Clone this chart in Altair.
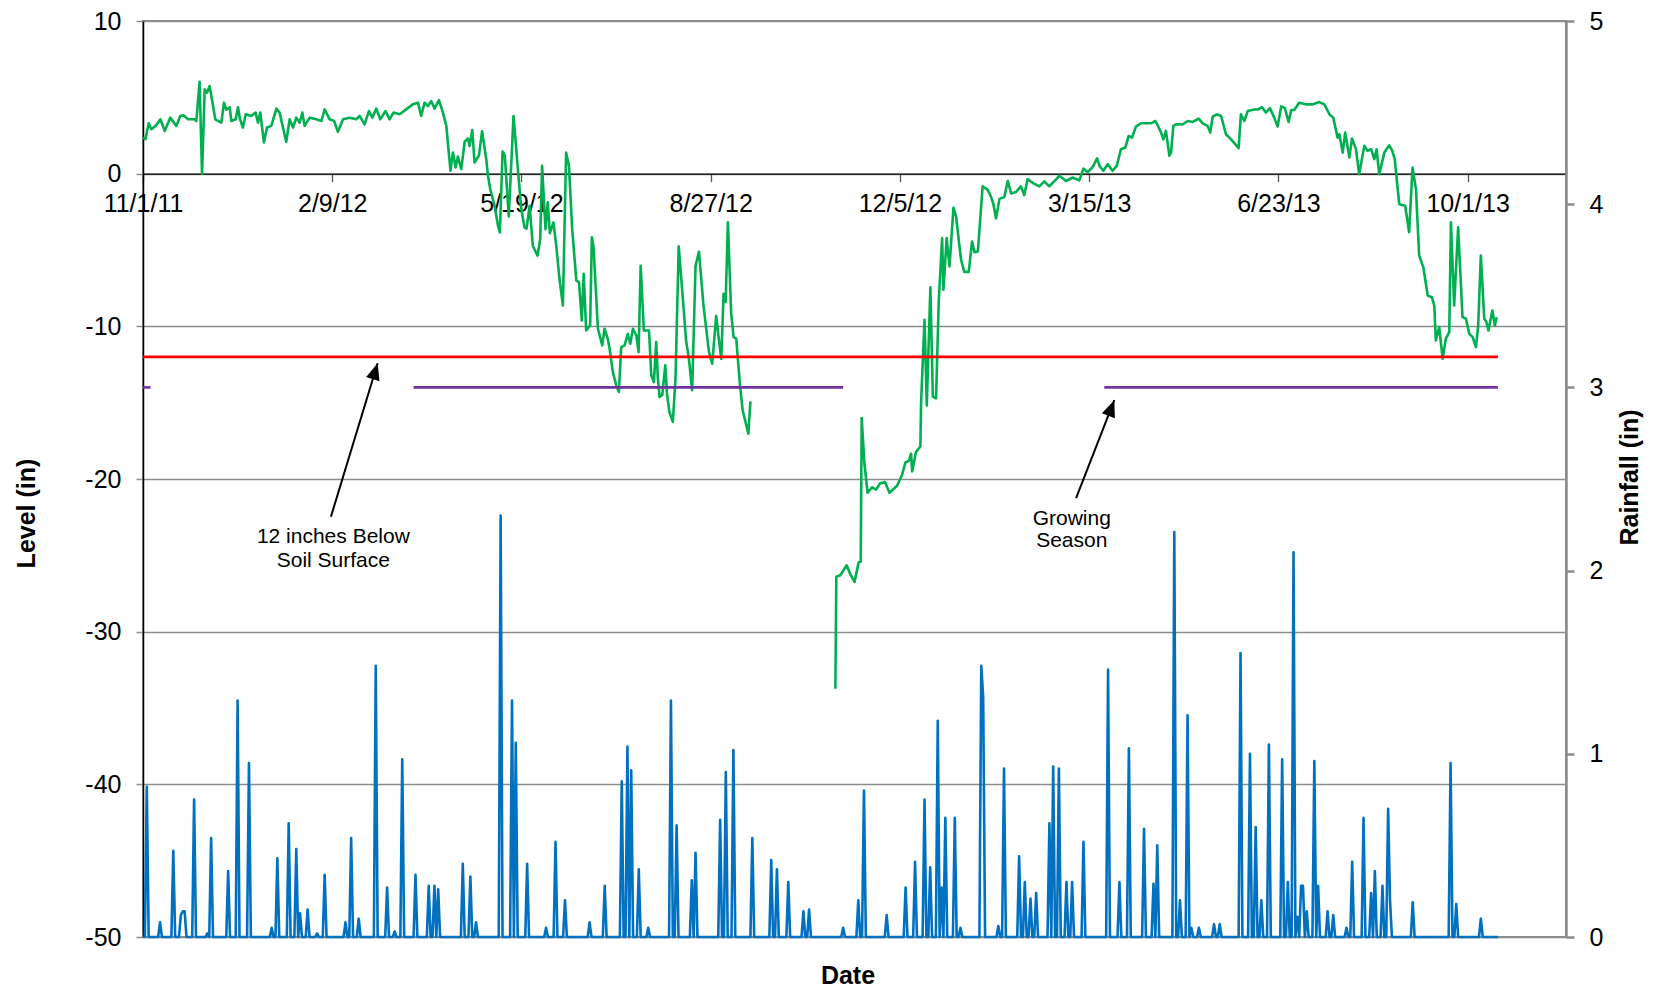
import altair as alt
import pandas as pd

FONT = "Liberation Sans"
W, H = 1423, 916
PAD_TOP, PAD_LEFT = 13, 135

# ---------------- data ----------------
# x = days since 11/1/11
tick_days = [0, 100, 200, 300, 400, 500, 600, 700]
tick_labels = ["11/1/11", "2/9/12", "5/19/12", "8/27/12", "12/5/12", "3/15/13", "6/23/13", "10/1/13"]

level_day_1 = [0, 1.3, 3.0, 4.4, 6.7, 9.2, 11.5, 14.4, 17.6, 19.7, 21.5, 23.8, 27.3, 28.2, 29.9, 31.2, 32.6, 33.8,
               35.2, 36.6, 38.2, 41.4, 42.8, 44, 45.8, 46.7, 49, 50.2, 51.2, 52.8, 54.3, 57.2, 59.5, 60.8, 62, 63.9,
               65.5, 67.8, 70.5, 72.2, 75.7, 77.5, 79.3, 81, 82.8, 84.2, 85.4, 88.1, 91.6, 94.3, 96, 98.6, 101, 103,
               105.7, 109.2, 112.7, 114.5, 117.1, 119.4, 121.2, 123.3, 125.4, 128.2, 130.3, 132.4, 135.6, 139.1,
               142.6, 145.3, 147, 148.8, 150.6, 152.3, 154.1, 156.4, 158.5, 160.3, 161.1, 162.5, 163.8, 165.2,
               166.4, 168.2, 170, 171.7, 172.6, 174, 175.2, 177.5, 179.2, 181.4, 182.3, 183.5, 185.8, 187.6, 188.6,
               190, 191.2, 193.3, 195.8, 198.1, 199.9, 201.6, 202.7, 204.3, 206, 208.5, 209.9, 210.9, 212.7, 213.9,
               215, 216.9, 218.4, 220.1, 221.9, 223.6, 225.1, 226.8, 229, 230.4, 231.9, 232.9, 234.2, 236.3, 237.2,
               238.1, 240.4, 242.7, 243.9, 245.6, 246.6, 248.3, 250.1, 251.5, 252.7, 254.5, 256.2, 257.5, 258.9,
               260.7, 261.9, 263, 264.7, 267.4, 268.6, 270, 271.2, 272.1, 273, 274.4, 276, 276.9, 278.2, 280, 281.4,
               283.1, 285.3, 287, 288.5, 290.2, 292, 293.8, 296.2, 299.1, 300.8, 302.9, 304.7, 305.6, 306.8, 307.9,
               309.1, 310.8, 312.1, 313.5, 315.5, 316.9, 319.9, 321]
level_val_1 = [2.37, 2.26, 3.30, 2.91, 3.13, 3.56, 2.80, 3.67, 3.13, 3.78, 3.82, 3.56, 3.56, 3.45, 6.02, 0.0, 5.52, 5.3,
               5.74, 4.74, 3.56, 3.34, 4.65, 4.2, 4.35, 3.45, 3.56, 4.35, 3.6, 3.02, 3.89, 3.78, 4.0, 3.34, 4.0, 2.04,
               3.02, 3.13, 4.26, 4.0, 2.08, 3.56, 3.02, 3.67, 3.34, 4.0, 3.13, 3.67, 3.56, 3.45, 4.21, 3.56, 3.45, 2.74,
               3.56, 3.67, 3.56, 3.78, 3.23, 4.1, 3.67, 4.26, 3.56, 4.1, 3.56, 4.0, 3.89, 4.21,
               4.54, 4.65, 3.78, 4.65, 4.43, 4.76, 4.26, 4.82, 4.0, 3.13, 2.04, 0.2, 1.39, 0.4,
               1.12, 0.3, 2.1, 2.3, 1.82, 2.86, 0.73, 1.17, 2.78, 0.95, -0.14, -1.01, -2.1, -3.41, -3.85,
               1.45, 1.2, -2.8, 3.78, 0.3, -2.32, -3.52, -3.6, -2.1, -4.72, -5.37, -4.28, 0.51, -3.63, -1.88,
               -3.9, -3.19, -4.72, -6.9, -8.64, 1.38, 0.51, -3.63, -7.0, -7.1, -9.62, -6.56, -10.27, -9.94, -4.17,
               -4.8, -10.16, -11.25, -10.16, -10.81, -11.47, -13.0, -13.87, -14.3, -11.36, -11.25, -10.49, -11.14, -10.16,
               -10.6, -11.69, -6.03, -10.27, -10.27, -13.21, -13.65, -11.03, -13.43, -14.63, -14.5, -12.56, -14.41, -15.61, -16.26, -13.43,
               -4.76, -8.2, -10.93, -12.13, -14.19, -6.03, -5.11, -8.64, -11.69, -12.45, -9.33, -11.25, -12.13, -7.87, -8.4,
               -3.19, -9.08, -10.71, -10.8, -13.87, -15.5, -17.03, -14.91]

level_day_2 = [365.9, 366.4, 368.5, 371.9, 373.6, 376, 378.2, 379.3, 379.8, 381.2, 382.9, 385.3, 387.4, 389.4, 392.1,
               394.5, 398.5, 401.1, 402.9, 404.8, 405.9, 406.5, 408.5, 410.8, 411.2, 413, 414.2, 416.1, 417.4, 419.1,
               420.5, 422.3, 423, 424.7, 426.2, 428.3, 429.7, 431.4, 432.3, 434, 436.4, 438.1, 439.4, 441.2, 443.7,
               446.4, 448.2, 449.4, 450.8, 452.6, 455.2, 457, 458.8, 461.4, 463.9, 465.7, 467.5, 470.1, 473.7, 476.3,
               478.9, 481.6, 484.3, 487.8, 491.3, 494.8, 497, 499.3, 501.9, 504.2, 505.5, 507.5, 509.8, 512.4, 514.6,
               516.8, 519.1, 520.9, 522.7, 524.7, 527.4, 530, 532.7, 535, 536.2, 538, 539.2, 540.6, 542.4, 543.3,
               544.5, 545.9, 549.4, 552.1, 554.7, 557.9, 560, 562.6, 564, 565.3, 567.4, 569.7, 572.3, 575, 577.2, 579,
               580.2, 582, 583.8, 587.3, 589.2, 591.3, 593.4, 595.5, 597.8, 599.6, 601.5, 603.4, 605.4, 606.8, 608.4,
               611, 614.6, 618.1, 621.6, 624.3, 627, 629, 631.3, 632.2, 634, 635.3, 637.5, 638.9, 641, 642.7, 645.4,
               647.2, 649, 650.7, 651.9, 653.3, 656, 658.6, 660.2, 661.5, 662.5, 663.9, 667, 669.1, 670.9, 672.7,
               674.4, 676.6, 678.9, 681.1, 682.4, 683.2, 685, 686.8, 688.5, 690.3, 691.2, 692.9, 695, 697.3, 699.1,
               700.9, 702.7, 704.4, 705.6, 707, 708.8, 709.9, 711, 713.1, 714.4, 715.4]
level_val_2 = [-33.74, -26.4, -26.3, -25.65, -26.2, -26.74, -25.46, -25.4, -16.0, -18.92, -20.9, -20.55, -20.7, -20.3, -20.2,
               -20.9, -20.44, -19.74, -18.92, -18.8, -18.34, -19.5, -18.22, -17.87, -14.95, -9.58, -15.19, -7.44, -14.6, -14.72,
               -8.42, -4.22, -7.6, -4.22, -6.08, -2.23, -2.82, -4.68, -5.62, -6.43, -6.43, -4.45, -5.15, -5.1, -0.83,
               -1.06, -1.53, -2.0, -2.93, -1.65, -1.53, -0.48, -1.3, -1.2, -0.83, -1.4, -0.36, -0.6, -0.83, -0.5,
               -0.83, -0.5, -0.13, -0.48, -0.25, -0.44, 0.33, 0.1, 0.45, 1.0, 0.5, 0.19, 0.62, 0.19, 0.51,
               1.6, 1.71, 2.47, 2.36, 3.08, 3.3, 3.3, 3.3, 3.45, 3.17, 2.69, 2.25, 2.8, 1.17, 1.4,
               3.13, 3.23, 3.23, 3.45, 3.39, 3.6, 3.3, 3.13, 2.69, 3.74, 3.89, 3.78, 2.58, 2.25, 1.93, 1.67,
               3.89, 3.45, 4.1, 4.21, 4.2, 4.36, 4.0, 4.3, 3.67, 3.08, 4.41, 4.3, 3.39, 4.17, 4.17,
               4.65, 4.54, 4.54, 4.69, 4.54, 3.89, 3.67, 2.36, 2.58, 1.38, 2.69, 1.06, 2.3, 1.6, -0.03, 1.82,
               1.49, 1.6, 0.95, 1.6, -0.03, 1.38, 1.86, 1.5, 0.95, -0.3, -2.0, -2.1, -3.84, 0.4, -1.01,
               -5.37, -6.13, -7.98, -8.09, -8.64, -10.92, -10.05, -12.12, -10.81, -10.38, -3.19, -8.64, -3.52, -9.4, -9.5,
               -10.49, -10.71, -11.36, -9.95, -5.37, -9.51, -9.7, -10.27, -8.96, -9.95, -9.4]

# daily rainfall: days with rain (all other days 0)
rain_last_day = 716
rain_day = [2, 9, 16, 20, 21, 22, 27, 34, 36, 45, 50, 56, 68, 71, 77, 81, 83, 87, 92, 96, 107, 110, 114, 123, 129,
            133, 137, 144, 151, 154, 156, 169, 173, 176, 189, 195, 197, 203, 213, 218, 223, 236, 244, 253, 256, 258,
            262, 267, 279, 282, 290, 292, 305, 308, 312, 322, 332, 335, 341, 349, 352, 370, 378, 381, 393, 403, 408,
            413, 416, 420, 422, 424, 429, 432, 443, 444, 452, 455, 463, 466, 469, 472, 479, 481, 484, 488, 491, 497,
            510, 516, 521, 529, 534, 536, 545, 548, 552, 554, 558, 566, 569, 580, 585, 588, 591, 595, 602, 605, 608,
            610, 612, 613, 615, 619, 621, 626, 629, 636, 639, 645, 649, 651, 655, 658, 659, 671, 691, 694, 707]
rain_in = [0.82, 0.08, 0.47, 0.12, 0.14, 0.14, 0.75, 0.02, 0.54, 0.36, 1.29, 0.95, 0.05, 0.43, 0.62, 0.48, 0.13, 0.15,
           0.02, 0.34, 0.08, 0.54, 0.10, 1.48, 0.27, 0.03, 0.97, 0.34, 0.28, 0.28, 0.26, 0.40, 0.33, 0.08, 2.30, 1.29,
           1.06, 0.40, 0.05, 0.52, 0.20, 0.08, 0.28, 0.85, 1.04, 0.91, 0.37, 0.05, 1.29, 0.61, 0.31, 0.46, 0.64, 0.90,
           1.02, 0.54, 0.42, 0.37, 0.30, 0.14, 0.15, 0.05, 0.20, 0.80, 0.12, 0.27, 0.41, 0.75, 0.38, 1.18, 0.27, 0.65,
           0.65, 0.05, 1.48, 1.31, 0.06, 0.92, 0.44, 0.30, 0.21, 0.24, 0.62, 0.93, 0.92, 0.30, 0.30, 0.52, 1.46, 0.30,
           1.03, 0.59, 0.29, 0.50, 2.21, 0.20, 1.21, 0.05, 0.05, 0.07, 0.07, 1.55, 1.00, 0.60, 0.20, 1.05, 0.97, 0.30,
           2.10, 0.11, 0.28, 0.28, 0.14, 0.96, 0.28, 0.14, 0.12, 0.05, 0.41, 0.65, 0.24, 0.36, 0.28, 0.70, 0.20, 0.19,
           0.95, 0.18, 0.10]

threshold_level = -12          # 12 inches below soil surface
threshold_start, threshold_end = 0, 716
growing_level = -14
growing_start = [0, 143, 508]
growing_end = [4, 370, 716]

ann_day = [100.6, 100.6, 490.8, 490.8]
ann_level = [-23.83, -25.36, -22.59, -24.07]
ann_text = ["12 inches Below", "Soil Surface", "Growing", "Season"]

arrow_tail_day = [99.3, 493.1]
arrow_tail_level = [-22.47, -21.26]
arrow_tip_day = [124.0, 513.3]
arrow_tip_level = [-12.42, -14.84]
arrow_angle = [17, 21]

# ---------------- tables ----------------
level_df = pd.DataFrame({
    "day": level_day_1 + level_day_2,
    "level": level_val_1 + level_val_2,
    "seg": [1] * len(level_day_1) + [2] * len(level_day_2),
})
rain_values = [0.0] * (rain_last_day + 1)
for d, v in zip(rain_day, rain_in):
    rain_values[d] = v
rain_df = pd.DataFrame({"day": list(range(rain_last_day + 1)), "rain": rain_values})
thr_df = pd.DataFrame({"start": [threshold_start], "end": [threshold_end], "level": [threshold_level]})
grow_df = pd.DataFrame({"start": growing_start, "end": growing_end, "level": [growing_level] * 3})
ann_df = pd.DataFrame({"day": ann_day, "level": ann_level, "text": ann_text})
arrow_df = pd.DataFrame({"d0": arrow_tail_day, "l0": arrow_tail_level,
                         "d1": arrow_tip_day, "l1": arrow_tip_level, "ang": arrow_angle})

# ---------------- scales / axes ----------------
label_expr = " : ".join(f"datum.value == {d} ? '{l}'" for d, l in zip(tick_days, tick_labels)) + " : ''"
xscale = alt.Scale(domain=[0, 752], nice=False, zero=False)
xaxis = alt.Axis(values=tick_days, labelExpr=label_expr, title=None, offset=-(H * 50 / 60), grid=False,
                 domainColor="black", domainWidth=1.3, tickColor="#555555", tickSize=8, tickWidth=1.3,
                 labelFont=FONT, labelFontSize=25, labelColor="black", labelPadding=10,
                 labelFlush=False, labelOverlap=False)
yscale = alt.Scale(domain=[-50, 10], nice=False, zero=False)
yaxis = alt.Axis(values=[-50, -40, -30, -20, -10, 0, 10], labelExpr="datum.value + ''",
                 title="Level (in)", titleFont=FONT, titleFontSize=25, titleFontWeight="bold",
                 titleColor="black", titleAngle=270, titleX=-117, titleY=492, titleAlign="center",
                 titleBaseline="middle",
                 grid=True, gridColor="#8c8c8c", gridWidth=1.3,
                 domainColor="black", domainWidth=1.5, tickColor="#8c8c8c", tickSize=7, tickWidth=1.5,
                 labelFont=FONT, labelFontSize=25, labelColor="black", labelPadding=15)
rscale = alt.Scale(domain=[0, 5], nice=False, zero=False)
raxis = alt.Axis(orient="right", values=[0, 1, 2, 3, 4, 5], title="Rainfall (in)", titleFont=FONT,
                 titleFontSize=25, titleFontWeight="bold", titleColor="black", titleAngle=270,
                 titleX=63, titleY=456, titleAlign="center", titleBaseline="middle",
                 grid=False, domainColor="#8c8c8c", domainWidth=2.5, tickColor="#8c8c8c", tickSize=8,
                 tickWidth=2.5, labelFont=FONT, labelFontSize=25, labelColor="black", labelPadding=15)

X = lambda f: alt.X(f, type="quantitative", scale=xscale, axis=xaxis)
Y = lambda f: alt.Y(f, type="quantitative", scale=yscale, axis=yaxis)

green = alt.Chart(level_df).mark_line(color="#00B050", strokeWidth=2.6, strokeJoin="round").encode(
    x=X("day"), y=Y("level"), detail="seg:N", order="day:Q")
red = alt.Chart(thr_df).mark_rule(color="#FF0000", strokeWidth=2.6).encode(
    x=X("start"), x2="end", y=Y("level"))
purple = alt.Chart(grow_df).mark_rule(color="#7030A0", strokeWidth=2.6).encode(
    x=X("start"), x2="end", y=Y("level"))
arrow_line = alt.Chart(arrow_df).mark_rule(color="black", strokeWidth=2).encode(
    x=X("d0"), y=Y("l0"), x2="d1", y2="l1")
arrow_head = alt.Chart(arrow_df).mark_point(shape="M0,0 L0.42,1 L-0.42,1 Z", filled=True, color="black",
                                             opacity=1, size=1100, strokeWidth=0).encode(
    x=X("d1"), y=Y("l1"), angle=alt.Angle("ang:Q", scale=None))
ann = alt.Chart(ann_df).mark_text(font=FONT, fontSize=21, color="black", align="center",
                                  baseline="middle").encode(x=X("day"), y=Y("level"), text="text")
date_title = alt.Chart(pd.DataFrame({"t": ["Date"]})).mark_text(
    font=FONT, fontSize=25, fontWeight="bold", color="black", align="center", baseline="alphabetic").encode(
    x=alt.value(705), y=alt.value(963), text="t")

level_group = alt.layer(green, red, purple, arrow_line, arrow_head, ann, date_title)

rain = alt.Chart(rain_df).mark_line(color="#0070C0", strokeWidth=2.6, strokeJoin="round").encode(
    x=X("day"), y=alt.Y("rain", type="quantitative", scale=rscale, axis=raxis))

chart = alt.layer(level_group, rain).resolve_scale(y="independent").properties(
    width=W, height=H,
    autosize=alt.AutoSizeParams(type="none"),
    padding={"left": PAD_LEFT, "top": PAD_TOP, "right": 80, "bottom": 54},
).configure_view(stroke="#8c8c8c", strokeWidth=2)

chart.save("out.html", embed_options={"renderer": "svg", "actions": False})
